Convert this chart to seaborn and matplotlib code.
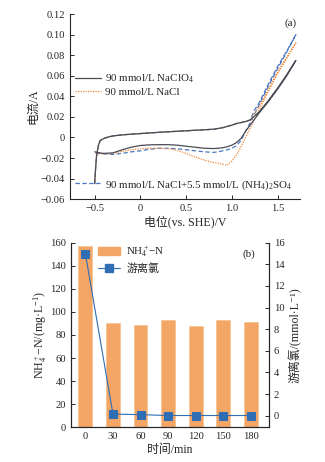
import numpy as np
import pandas as pd
import matplotlib
matplotlib.use("Agg")
import matplotlib.pyplot as plt
import seaborn as sns
from matplotlib.lines import Line2D
from matplotlib.patches import Patch

# ---------------- data (a): cyclic voltammetry ----------------
v_fwd = [-0.50, -0.49, -0.48, -0.46, -0.44, -0.40, -0.35, -0.30, -0.20, -0.10, 0.00, 0.20, 0.40,
         0.60, 0.80, 0.90, 1.00, 1.05, 1.10, 1.15, 1.20, 1.25, 1.30, 1.40, 1.50, 1.60, 1.70]
i_fwd_common = [-0.045, -0.030, -0.018, -0.008, -0.003, -0.001, 0.0005, 0.0015, 0.0025, 0.0032,
                0.0038, 0.005, 0.006, 0.007, 0.008, 0.0095, 0.012, 0.0135, 0.0145, 0.0155, 0.017]
i_fwd_clo4_hi = [0.021, 0.025, 0.036, 0.048, 0.061, 0.075]
i_fwd_nacl_hi = [0.024, 0.030, 0.047, 0.064, 0.078, 0.092]
i_fwd_mix_hi = [0.027, 0.034, 0.052, 0.069, 0.084, 0.100]

v_rev = [1.60, 1.50, 1.40, 1.30, 1.20, 1.15, 1.10, 1.05, 1.00, 0.95, 0.90, 0.85, 0.80, 0.70, 0.60,
         0.50, 0.40, 0.30, 0.20, 0.10, 0.00, -0.10, -0.20, -0.30, -0.40, -0.45, -0.50]
i_rev_clo4 = [0.060, 0.047, 0.035, 0.024, 0.012, 0.006, -0.001, -0.005, -0.0075, -0.009, -0.010,
              -0.0105, -0.0108, -0.0105, -0.0095, -0.0085, -0.0075, -0.007, -0.007, -0.0072,
              -0.0078, -0.0095, -0.012, -0.015, -0.0155, -0.015, -0.014]
i_rev_nacl = [0.077, 0.062, 0.045, 0.027, 0.009, 0.000, -0.009, -0.017, -0.023, -0.027, -0.026,
              -0.025, -0.0245, -0.022, -0.019, -0.0155, -0.0125, -0.011, -0.0105, -0.0105,
              -0.011, -0.012, -0.0135, -0.0155, -0.016, -0.016, -0.0155]
i_rev_mix = [0.083, 0.067, 0.050, 0.032, 0.014, 0.006, -0.003, -0.008, -0.0105, -0.012, -0.013,
             -0.014, -0.0145, -0.014, -0.013, -0.012, -0.011, -0.0105, -0.0105, -0.0115,
             -0.013, -0.014, -0.0155, -0.0165, -0.016, -0.015, -0.0145]

labels_a = ["90 mmol/L NaClO$_4$", "90 mmol/L NaCl",
            "90 mmol/L NaCl+5.5 mmol/L (NH$_4$)$_2$SO$_4$"]

# ---------------- data (b) ----------------
times = ["0", "30", "60", "90", "120", "150", "180"]
nh4_n = [157, 90, 89, 93, 88, 93, 91]
free_cl = [15.0, 0.15, 0.10, 0.02, 0.02, 0.02, 0.02]

# ---------------- style ----------------
sns.set_style("ticks")
plt.rcParams["font.family"] = ["Liberation Serif", "Noto Sans CJK SC", "DejaVu Serif"]
plt.rcParams["mathtext.fontset"] = "custom"
plt.rcParams["mathtext.rm"] = "Liberation Serif"
plt.rcParams["mathtext.it"] = "Liberation Serif:italic"
plt.rcParams["axes.unicode_minus"] = True
plt.rcParams["axes.linewidth"] = 0.8
plt.rcParams["xtick.direction"] = "in"
plt.rcParams["ytick.direction"] = "in"
plt.rcParams["xtick.major.size"] = 3
plt.rcParams["ytick.major.size"] = 3
plt.rcParams["xtick.major.width"] = 0.7
plt.rcParams["ytick.major.width"] = 0.7
FS = 7.6
FL = 8.6   # axis-label size
FLEG = 7.9

fig = plt.figure(figsize=(3.25, 4.62), dpi=100)
axa = fig.add_axes([0.2154, 0.569, 0.709, 0.4004])
axb = fig.add_axes([0.2185, 0.0751, 0.609, 0.3996])

c_clo4 = "#4b4b57"
c_nacl = "#f08a3c"
c_mix = "#4a78c2"

def cv_frame(hi, rev):
    v = v_fwd + v_rev
    i = i_fwd_common + hi + rev
    return pd.DataFrame({"V": v, "I": i, "order": np.arange(len(v))})

df_clo4 = cv_frame(i_fwd_clo4_hi, i_rev_clo4)
df_nacl = cv_frame(i_fwd_nacl_hi, i_rev_nacl)
df_mix = cv_frame(i_fwd_mix_hi, i_rev_mix)

sns.lineplot(data=df_mix, x="V", y="I", sort=False, estimator=None, ax=axa,
             color=c_mix, lw=0.9, linestyle=(0, (3.5, 2)))
sns.lineplot(data=df_nacl, x="V", y="I", sort=False, estimator=None, ax=axa,
             color=c_nacl, lw=0.9, linestyle=(0, (1, 1)))
sns.lineplot(data=df_clo4, x="V", y="I", sort=False, estimator=None, ax=axa,
             color=c_clo4, lw=0.9)

axa.set_xlim(-0.77, 1.75)
axa.set_ylim(-0.06, 0.12)
axa.set_xticks([-0.5, 0, 0.5, 1.0, 1.5])
axa.set_xticklabels(["\u22120.5", "0", "0.5", "1.0", "1.5"], fontsize=FS)
yt = [-0.06, -0.04, -0.02, 0, 0.02, 0.04, 0.06, 0.08, 0.10, 0.12]
axa.set_yticks(yt)
axa.set_yticklabels(["\u22120.06", "\u22120.04", "\u22120.02", "0", "0.02", "0.04", "0.06",
                     "0.08", "0.10", "0.12"], fontsize=FS)
axa.spines["top"].set_visible(False)
axa.spines["right"].set_visible(False)
axa.set_xlabel("电位(vs. SHE)/V", fontsize=FL, labelpad=2)
axa.set_ylabel("电流/A", fontsize=FL, labelpad=1)
axa.text(0.985, 0.975, "(a)", transform=axa.transAxes, fontsize=FLEG, ha="right", va="top")

h1 = [Line2D([], [], color=c_clo4, lw=0.9),
      Line2D([], [], color=c_nacl, lw=0.9, linestyle=(0, (1, 1)))]
leg1 = axa.legend(h1, labels_a[:2], loc="upper left", bbox_to_anchor=(0.015, 0.69),
                  frameon=False, fontsize=FLEG, handlelength=2.4, handletextpad=0.35,
                  borderaxespad=0.0, labelspacing=0.2, borderpad=0.1)
axa.add_artist(leg1)
h2 = [Line2D([], [], color=c_mix, lw=0.9, linestyle=(0, (3.5, 2)))]
axa.legend(h2, labels_a[2:], loc="lower left", bbox_to_anchor=(0.015, 0.035),
           frameon=False, fontsize=FLEG, handlelength=2.4, handletextpad=0.35,
           borderaxespad=0.0, borderpad=0.1)

# ---------------- (b) ----------------
c_bar = "#f3a665"
c_line = "#2f6db5"
dfb = pd.DataFrame({"time": times, "nh4": nh4_n, "cl": free_cl, "pos": np.arange(len(times))})
sns.barplot(data=dfb, x="time", y="nh4", ax=axb, color=c_bar, width=0.5,
            edgecolor="#f6c394", linewidth=0.6, saturation=1)
axb.set_xlim(-0.52, 6.65)
axb.set_ylim(0, 160)
axb.set_yticks(np.arange(0, 161, 20))
axb.set_yticklabels([str(v) for v in range(0, 161, 20)], fontsize=FS)
axb.set_xticks(np.arange(len(times)))
axb.set_xticklabels(times, fontsize=FS)
axb.spines["top"].set_visible(False)
axb.set_xlabel("时间/min", fontsize=FL, labelpad=2)
axb.set_ylabel("NH$_4^+$\u2212N/(mg\u00b7L$^{-1}$)", fontsize=FL, labelpad=1)

axr = axb.twinx()
sns.lineplot(data=dfb, x="pos", y="cl", ax=axr, color=c_line, lw=0.8, marker="s",
             markersize=5.5, markeredgecolor=c_line, markerfacecolor=c_line)
axr.set_ylim(-1.07, 16)
axr.set_yticks(np.arange(0, 17, 2))
axr.set_yticklabels([str(v) for v in range(0, 17, 2)], fontsize=FS)
axr.spines["top"].set_visible(False)
axr.set_xlim(-0.52, 6.65)
axr.set_ylabel("游离氯/(mmol\u00b7L\u207b\u00b9)", fontsize=FL, labelpad=3)
axr.text(0.93, 0.965, "(b)", transform=axb.transAxes, fontsize=FLEG, ha="right", va="top")

hb = [Patch(facecolor=c_bar, edgecolor=c_bar),
      Line2D([], [], color=c_line, lw=0.8, marker="s", markersize=5.5)]
axr.legend(hb, ["NH$_4^+$\u2212N", "游离氯"], loc="upper left", bbox_to_anchor=(0.13, 0.995),
           frameon=False, fontsize=FLEG, handlelength=2.0, handletextpad=0.6,
           borderaxespad=0.0, labelspacing=0.35, borderpad=0.1)

fig.savefig("out.png", dpi=100)
